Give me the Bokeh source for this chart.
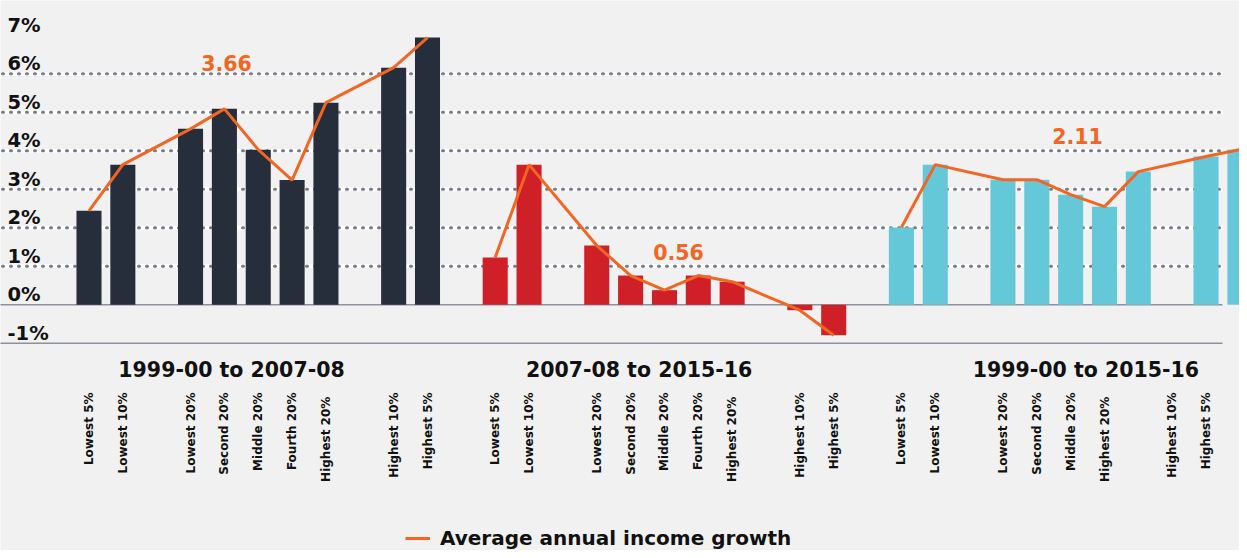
import math
from bokeh.plotting import figure
from bokeh.models import Range1d, Legend, LegendItem
from bokeh.core.properties import value
from bokeh.embed import file_html
from bokeh.resources import INLINE

# ---------------- data ----------------
categories = ["Lowest 5%", "Lowest 10%", "Lowest 20%", "Second 20%", "Middle 20%",
              "Fourth 20%", "Highest 20%", "Highest 10%", "Highest 5%"]
periods = ["1999-00 to 2007-08", "2007-08 to 2015-16", "1999-00 to 2015-16"]
growth_1999_2008 = [2.44, 3.64, 4.57, 5.09, 4.03, 3.24, 5.25, 6.16, 6.94]
growth_2008_2016 = [1.23, 3.64, 1.54, 0.76, 0.38, 0.76, 0.60, -0.14, -0.79]
growth_1999_2016 = [2.01, 3.64, 3.25, 3.25, 2.86, 2.55, 3.46, 3.85, 4.03]
averages = [3.66, 0.56, 2.11]
y_ticks = [-1, 0, 1, 2, 3, 4, 5, 6, 7]
tick_labels = ["-1%", "0%", "1%", "2%", "3%", "4%", "5%", "6%", "7%"]
# axis labels as printed under each group (third group labels are shifted in the original)
labels_g1 = ["Lowest 5%", "Lowest 10%", "", "Lowest 20%", "Second 20%", "Middle 20%",
             "Fourth 20%", "Highest  20%", "", "Highest 10%", "Highest 5%"]
labels_g2 = labels_g1
labels_g3 = ["Lowest 5%", "Lowest 10%", "", "Lowest 20%", "Second 20%", "Middle 20%",
             "Highest  20%", "", "Highest 10%", "Highest 5%", ""]

# ---------------- layout ----------------
W, H = 1239, 550
SLOT = 33.85          # px per category slot
X0 = 96.5 - 8         # px of slot 0 centre inside canvas
PXU = 38.5            # px per 1 %
Y0 = 312.3 - 8        # px of zero line inside canvas

def xd(px):  # canvas px -> data x
    return (px - X0) / SLOT

def yd(py):  # canvas px -> data y
    return (Y0 - py) / PXU

bar_offsets = [0, 1, 3, 4, 5, 6, 7, 9, 10]
group_starts = [0, 12, 24]
colors = ["#262d3b", "#cf2027", "#64c8d8"]
series = [growth_1999_2008, growth_2008_2016, growth_1999_2016]
group_labels = [labels_g1, labels_g2, labels_g3]
LINE = "#f26522"
BG = "#f1f1f1"
FONT = value("DejaVu Sans")

p = figure(width=W, height=H, x_range=Range1d(xd(0), xd(W)),
           y_range=Range1d(yd(H), yd(0)), x_axis_type=None, y_axis_type=None,
           toolbar_location=None, output_backend="svg", min_border=0)
p.background_fill_color = BG
p.border_fill_color = BG
p.outline_line_color = None
p.grid.visible = False

# gridlines (white band with grey dots)
gx0, gx1 = xd(-6), xd(1230 - 8)
grid_vals = [v for v in y_ticks if 1 <= v <= 6]
p.segment(x0=[gx0] * len(grid_vals), x1=[gx1] * len(grid_vals), y0=grid_vals, y1=grid_vals,
          line_color="white", line_width=3.5)
p.segment(x0=[gx0] * len(grid_vals), x1=[gx1] * len(grid_vals), y0=grid_vals, y1=grid_vals,
          line_color="#767b88", line_width=3, line_dash="1 7", line_cap="round")
# solid lines at 0 and -1
base_vals = [0, -1]
p.segment(x0=[gx0] * 2, x1=[gx1] * 2, y0=base_vals, y1=base_vals,
          line_color="#8e919b", line_width=1.5)

# y tick labels (inside plot, above their gridlines)
p.text(x=[xd(15 - 8)] * len(y_ticks), y=[v + 10 / PXU for v in y_ticks], text=tick_labels,
       text_font=FONT, text_font_style="bold", text_font_size="19.5px",
       text_color="#111111", text_align="left", text_baseline="alphabetic")

line_renderers = []
for g, (start, vals, col, labs) in enumerate(zip(group_starts, series, colors, group_labels)):
    xs = [start + o for o in bar_offsets]
    p.vbar(x=xs, top=vals, bottom=0, width=0.74, fill_color=col, line_color=None)
    r = p.line(x=xs, y=vals, line_color=LINE, line_width=3)
    line_renderers.append(r)
    lx = [start + i for i, t in enumerate(labs) if t]
    lt = [t for t in labs if t]
    p.text(x=lx, y=[yd(400 - 8)] * len(lx), text=lt, angle=math.pi / 2,
           text_font=FONT, text_font_style="bold", text_font_size="12px",
           text_color="#111111", text_align="right", text_baseline="middle")

# period labels
p.text(x=[4.21, 16.25, 29.45], y=[yd(377 - 8)] * 3, text=periods,
       text_font=FONT, text_font_style="bold", text_font_size="20.5px",
       text_color="#111111", text_align="center", text_baseline="alphabetic")

# average annotations
p.text(x=[xd(234 - 8), xd(686 - 8), xd(1085 - 8)],
       y=[yd(70 - 8), yd(259 - 8), yd(143 - 8)],
       text=[f"{a:.2f}" for a in averages],
       text_font=FONT, text_font_style="bold", text_font_size="20.5px",
       text_color=LINE, text_align="center", text_baseline="alphabetic")

legend = Legend(items=[LegendItem(label="Average annual income growth",
                                  renderers=[line_renderers[0]])],
                location=(405, 0), orientation="horizontal",
                glyph_width=25, glyph_height=20, label_standoff=10,
                label_text_font="DejaVu Sans", label_text_font_style="bold",
                label_text_font_size="20px", label_text_color="#111111",
                padding=0, margin=0, border_line_alpha=0, background_fill_alpha=0)
p.add_layout(legend)

open("out.html", "w").write(file_html(p, INLINE))
